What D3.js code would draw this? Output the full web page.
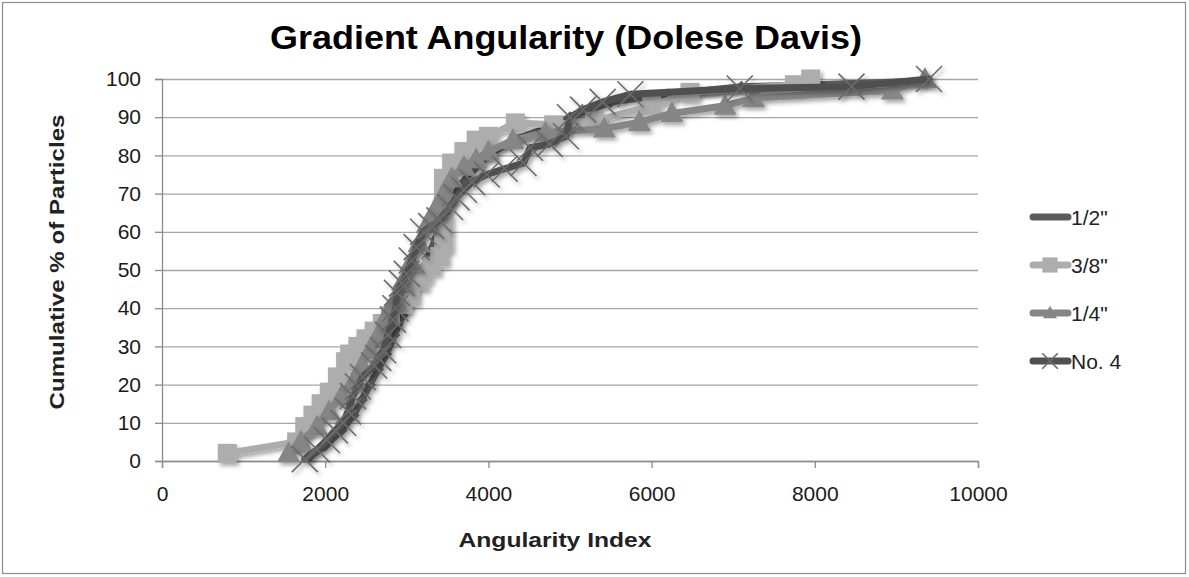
<!DOCTYPE html>
<html><head><meta charset="utf-8">
<script src="https://cdn.jsdelivr.net/npm/d3@7"></script>
<style>
html,body{margin:0;padding:0;background:#fff;}
svg{display:block;}
text{font-family:"Liberation Sans",Arial,sans-serif;}
</style></head>
<body>
<svg id="chart" width="1189" height="577"></svg>
<script>
// ---- data ----
const seriesNames = ['1/2"', '3/8"', '1/4"', 'No. 4'];
const half = [[1800,1],[2000,4],[2200,8],[2350,12],[2450,16],[2550,20],[2650,24],[2750,28],[2850,33],[2950,38],[3050,43],[3150,48],[3250,53],[3350,58],[3450,63],[3550,68],[3650,72],[3800,76],[4000,80],[4300,84],[4700,87],[5000,90],[5500,94],[6200,96],[7100,98],[8000,98.5],[9350,99.5]];
const threeEighths = [[800,2],[1650,5],[1750,9],[1850,12],[1950,15],[2050,18],[2150,22],[2250,26],[2300,28],[2400,30],[2500,32],[2600,34],[2700,36],[2800,38],[2950,41],[3040,43],[3150,47],[3200,49],[3300,51],[3400,53.5],[3450,57],[3450,62],[3450,70],[3450,74],[3550,78],[3700,81],[3850,84],[4000,85],[4330,88.5],[4800,88],[5300,89],[6000,93],[6470,96.5],[7750,98.5],[7950,100]];
const quarter = [[1550,2],[1700,5],[1900,9],[2050,13],[2200,17],[2350,21],[2450,25],[2550,29],[2650,33],[2750,38],[2850,42],[2950,47],[3050,52],[3150,57],[3250,62],[3350,66],[3450,70],[3550,74],[3700,77],[3850,79],[4000,81],[4300,84],[4700,86],[5420,87],[5850,88.7],[6250,91],[6900,93],[7250,95],[8950,97],[9350,100]];
const no4 = [[1750,0.5],[1900,3],[2020,5.5],[2120,8],[2220,10],[2280,13],[2340,17],[2400,19.5],[2460,22],[2600,25],[2650,27],[2710,29],[2770,33],[2830,37],[2860,40],[2880,44],[2940,46.5],[3000,49],[3060,52.5],[3120,56],[3200,60],[3300,61.5],[3400,63],[3530,66.5],[3610,69],[3700,71],[3800,73],[3980,75],[4200,76.5],[4430,78],[4510,82],[4750,83],[4950,85],[5000,90],[5160,92],[5400,94],[5740,96],[7080,97.5],[8450,98],[9400,100]];
const xTicks = [0,2000,4000,6000,8000,10000];
const yTicks = [0,10,20,30,40,50,60,70,80,90,100];
const seriesData = [half, threeEighths, quarter, no4];
const seriesColors = ['#5c5c5c', '#adadad', '#868686', '#505050'];
const seriesMarkers = ['diamond', 'square', 'triangle', 'x'];

// ---- layout ----
const svg = d3.select('#chart');
const x = d3.scaleLinear().domain([0,10000]).range([162,978]);
const y = d3.scaleLinear().domain([0,100]).range([461,79]);

svg.append('rect').attr('x',2.5).attr('y',2.5).attr('width',1183).attr('height',571)
  .attr('fill','#fff').attr('stroke','#8c8c8c').attr('stroke-width',1.2);

const defs = svg.append('defs');
const f = defs.append('filter').attr('id','shadow').attr('x','-20%').attr('y','-20%').attr('width','140%').attr('height','140%');
f.append('feDropShadow').attr('dx',2.5).attr('dy',3).attr('stdDeviation',2.2)
  .attr('flood-color','#000').attr('flood-opacity',0.35);

const grid = svg.append('g').attr('transform','translate(162,0)')
  .call(d3.axisLeft(y).tickValues(yTicks).tickSize(-(978-162)).tickFormat(''));
grid.select('.domain').remove();
grid.selectAll('line').attr('stroke','#a6a6a6').attr('stroke-width',1.3);

const ya = svg.append('g').attr('transform','translate(162,0)')
  .call(d3.axisLeft(y).tickValues(yTicks).tickSize(7).tickPadding(14));
ya.select('.domain').attr('stroke','#8c8c8c').attr('stroke-width',1.3);
ya.selectAll('line').attr('stroke','#8c8c8c').attr('stroke-width',1.3);
ya.selectAll('text').attr('font-size',21).attr('fill','#1a1a1a').attr('font-family','"Liberation Sans",Arial,sans-serif');

const xa = svg.append('g').attr('transform','translate(0,461)')
  .call(d3.axisBottom(x).tickValues(xTicks).tickSize(7).tickPadding(18).tickFormat(d3.format('d')));
xa.select('.domain').attr('stroke','#8c8c8c').attr('stroke-width',1.3);
xa.selectAll('line').attr('stroke','#8c8c8c').attr('stroke-width',1.3);
xa.selectAll('text').attr('font-size',21).attr('fill','#1a1a1a').attr('font-family','"Liberation Sans",Arial,sans-serif');

function drawMarker(g, type, px, py, color, scale) {
  const s = scale || 1;
  if (type === 'square') {
    const h = 9.5*s;
    g.append('rect').attr('x',px-h).attr('y',py-h).attr('width',2*h).attr('height',2*h).attr('fill',color);
  } else if (type === 'triangle') {
    const h = 10.5*s;
    g.append('path').attr('d',`M${px},${py-h*1.15}L${px+h*1.1},${py+h*0.85}L${px-h*1.1},${py+h*0.85}Z`).attr('fill',color);
  } else if (type === 'diamond') {
    const h = 6*s;
    g.append('path').attr('d',`M${px},${py-h}L${px+h},${py}L${px},${py+h}L${px-h},${py}Z`).attr('fill',color);
  } else if (type === 'x') {
    const h = 13*s;
    g.append('path').attr('d',`M${px-h},${py-h}L${px+h},${py+h}M${px-h},${py+h}L${px+h},${py-h}`)
      .attr('stroke','#6a6a6a').attr('stroke-width',1.6).attr('fill','none');
  }
}

const line = d3.line().x(d=>x(d[0])).y(d=>y(d[1]));
seriesData.forEach((data,i)=>{
  const g = svg.append('g').attr('filter','url(#shadow)');
  g.append('path').datum(data).attr('d',line).attr('fill','none')
    .attr('stroke',seriesColors[i]).attr('stroke-width',7).attr('stroke-linejoin','round').attr('stroke-linecap','round');
  data.forEach(d=>drawMarker(g, seriesMarkers[i], x(d[0]), y(d[1]), seriesColors[i]));
});

svg.append('text').attr('x',566).attr('y',49).attr('text-anchor','middle')
  .attr('font-size',33).attr('font-weight','bold').attr('fill','#000')
  .attr('textLength',592).attr('lengthAdjust','spacingAndGlyphs')
  .text('Gradient Angularity (Dolese Davis)');

svg.append('text').attr('x',555).attr('y',547).attr('text-anchor','middle')
  .attr('font-size',20).attr('font-weight','bold').attr('fill','#222')
  .attr('textLength',193).attr('lengthAdjust','spacingAndGlyphs')
  .text('Angularity Index');
svg.append('text').attr('transform','translate(64,262) rotate(-90)').attr('text-anchor','middle')
  .attr('font-size',20).attr('font-weight','bold').attr('fill','#222')
  .attr('textLength',295).attr('lengthAdjust','spacingAndGlyphs')
  .text('Cumulative % of Particles');

const legY = [217, 265, 313, 361];
seriesNames.forEach((name,i)=>{
  const g = svg.append('g');
  g.append('line').attr('x1',1033).attr('x2',1068).attr('y1',legY[i]).attr('y2',legY[i])
    .attr('stroke',seriesColors[i]).attr('stroke-width',7).attr('stroke-linecap','round');
  drawMarker(g, seriesMarkers[i], 1050, legY[i], seriesColors[i], i===1 ? 0.8 : 0.6);
  g.append('text').attr('x',1071).attr('y',legY[i]+8).attr('font-size',21).attr('fill','#222').text(name);
});
</script>
</body></html>
